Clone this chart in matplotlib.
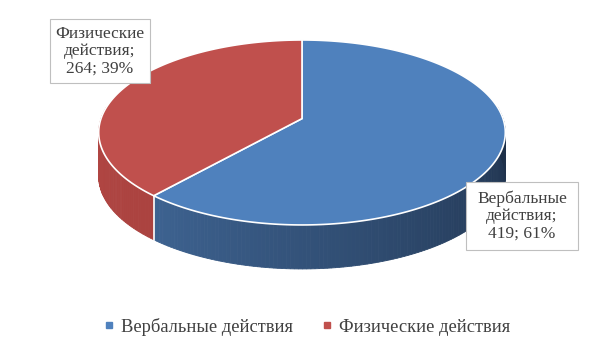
import numpy as np
import matplotlib.pyplot as plt
from matplotlib.patches import Polygon, Rectangle
from matplotlib.colors import to_rgb

plt.rcParams['font.family'] = ['Liberation Serif', 'DejaVu Serif']

labels = ['Вербальные действия', 'Физические действия']
values = [419, 264]
colors = ['#4f81bd', '#c0504d']
side_light = ['#4e7db6', '#b34744']
side_dark = ['#1c2d45', '#9a3936']

# pie geometry in pixel space (simple perspective)
cx, cy = 302, 118.6
rx, ry = 201, 90.4
k = 0.15
depth = 44

total = sum(values)
fracs = [v / total for v in values]

fig = plt.figure(figsize=(6.04, 3.53), dpi=100)
ax = fig.add_axes([0, 0, 1, 1])
ax.set_xlim(0, 604)
ax.set_ylim(353, 0)
ax.axis('off')


def pt(a):
    # screen coords for angle in degrees (math convention), near side bigger
    r = np.radians(a)
    s = 1.0 / (1 + k * np.sin(r))
    return cx + rx * np.cos(r) * s, cy - ry * np.sin(r) * s


# slice angle ranges, start at 12 o'clock clockwise
start = 90.0
ranges = []
for f in fracs:
    end = start - f * 360
    ranges.append((end, start))
    start = end


def mix(c1, c2, t):
    a, b = np.array(to_rgb(c1)), np.array(to_rgb(c2))
    return a + (b - a) * t


# side walls (front half)
lo_vis, hi_vis = 172, 368
for i, (a0, a1) in enumerate(ranges):
    lo, hi = a0 % 360, a1 % 360
    if hi <= lo:
        hi += 360
    for a in np.arange(lo, hi, 1.0):
        b = min(a + 1.0, hi)
        for off in (0, 360, -360):
            aa, bb = a + off, b + off
            if bb > lo_vis and aa < hi_vis:
                aa, bb = max(aa, lo_vis), min(bb, hi_vis)
                t = (aa - lo_vis) / (hi_vis - lo_vis)
                col = mix(side_light[i], side_dark[i], t ** 0.9)
                x0, y0 = pt(aa)
                x1, y1 = pt(bb)
                ax.add_patch(Polygon([(x0, y0), (x1, y1), (x1, y1 + depth), (x0, y0 + depth)],
                                     closed=True, fc=col, ec=col, lw=0.6))

# vertical edge at slice boundary on front
for a0, a1 in ranges:
    a = a0 % 360
    if 180 < a < 360:
        x, y = pt(a)
        ax.plot([x, x], [y, y + depth], color='white', lw=1.2)

# top faces
for i, (a0, a1) in enumerate(ranges):
    angs = np.linspace(a0, a1, 200)
    xs, ys = pt(angs)
    poly = [(cx, cy)] + list(zip(xs, ys))
    ax.add_patch(Polygon(poly, closed=True, fc=colors[i], ec='white', lw=1.2))

# data labels
lab_pos = [(522, 216), (100, 51)]
boxes = [(466, 182, 112, 68), (50, 19, 100, 64)]
for i in range(len(values)):
    bx, by, bw, bh = boxes[i]
    ax.add_patch(Rectangle((bx, by), bw, bh, fc='white', ec='#bfbfbf', lw=0.8))
    name = labels[i].split(' ')
    txt = f"{name[0]}\n{name[1]};\n{values[i]}; {round(fracs[i] * 100)}%"
    ax.text(lab_pos[i][0], lab_pos[i][1], txt, ha='center', va='center',
            fontsize=12.5, color='#404040', linespacing=1.12)

# legend
handles = [plt.Line2D([], [], marker='s', ls='', color=c, markersize=4.5) for c in colors]
fig.legend(handles, labels, loc='center', bbox_to_anchor=(0.508, 0.074), ncol=2,
           frameon=False, fontsize=13.3, handlelength=0.6, handletextpad=0.35,
           columnspacing=1.5, labelcolor='#404040')

fig.savefig('out.png', dpi=100)
